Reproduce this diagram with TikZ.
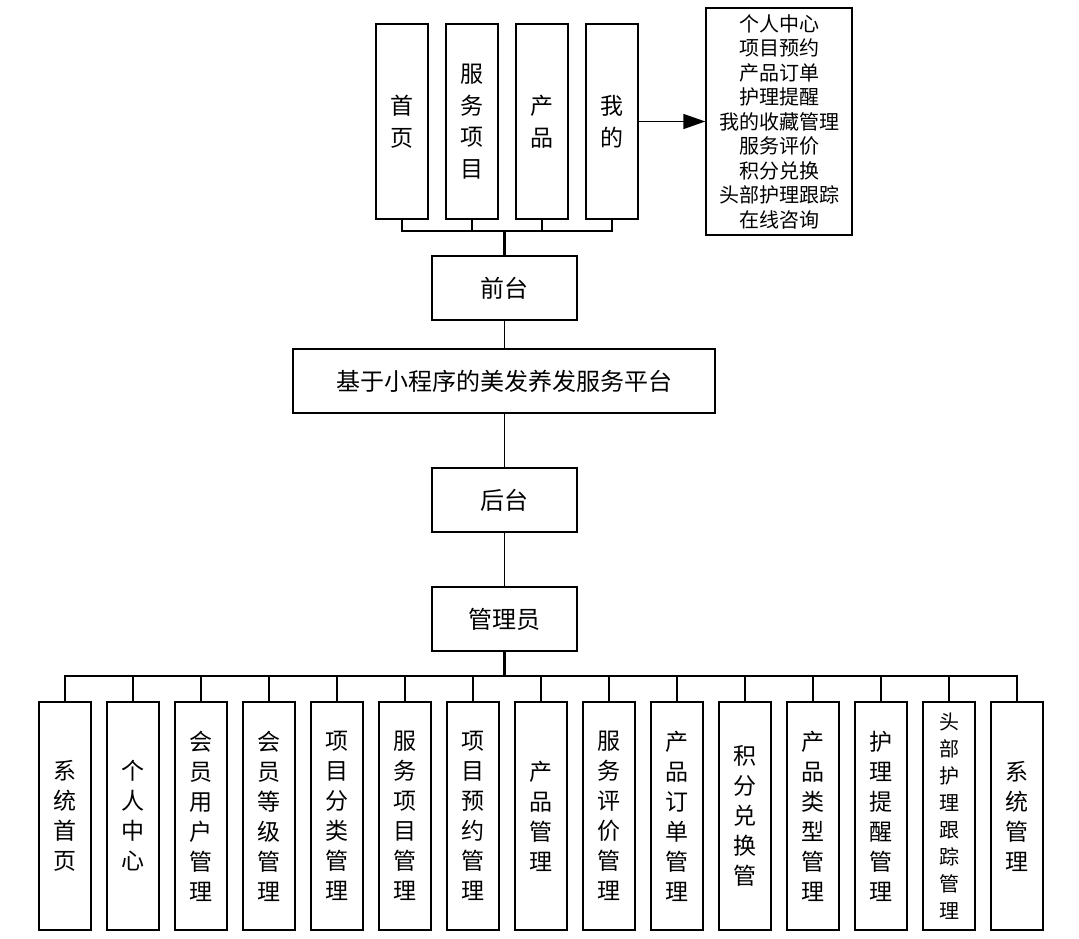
\documentclass[tikz,border=0pt]{standalone}
\usepackage{fontspec}
\newfontfamily\cjk{Noto Sans CJK SC}
\usetikzlibrary{arrows.meta}
\tikzset{
  every node/.style={font=\cjk},
  box/.style={draw, line width=1.3pt, inner sep=0pt, align=center},
  tallbox/.style={box, minimum width=52pt, minimum height=195pt, font=\cjk\fontsize{23}{31.6}\selectfont},
  lowbox/.style={box, minimum width=52pt, minimum height=228pt, font=\cjk\fontsize{23}{30}\selectfont},
  midbox/.style={box, minimum width=145pt, minimum height=64pt, font=\cjk\fontsize{24}{30}\selectfont},
  link/.style={line width=1.3pt},
  trunk/.style={line width=2.4pt}
}
\begin{document}
\begin{tikzpicture}[x=1pt,y=-1pt]
\useasboundingbox (0,0) rectangle (1079,939);
% top level boxes
\node[tallbox] (t1) at (402,121.5) {首\\页};
\node[tallbox] (t2) at (472,121.5) {服\\务\\项\\目};
\node[tallbox] (t3) at (542,121.5) {产\\品};
\node[tallbox] (t4) at (612,121.5) {我\\的};
\node[box, minimum width=146pt, minimum height=227pt, font=\cjk\fontsize{20}{24.5}\selectfont] (rb) at (779,121.5)
  {个人中心\\项目预约\\产品订单\\护理提醒\\我的收藏管理\\服务评价\\积分兑换\\头部护理跟踪\\在线咨询};
\draw[link, -{Triangle[length=22pt,width=15pt]}] (t4.east) -- (rb.west |- t4.east);
% middle chain
\node[midbox] (qt) at (504.5,288) {前台};
\node[midbox, minimum width=422pt] (pt) at (504,381) {基于小程序的美发养发服务平台};
\node[midbox] (ht) at (504.5,500) {后台};
\node[midbox] (gl) at (504.5,619) {管理员};
\coordinate (tbar) at (0,231);
\draw[link] (t1.south) |- (t4.south |- tbar) -- (t4.south);
\draw[link] (t2.south) -- (t2.south |- tbar);
\draw[link] (t3.south) -- (t3.south |- tbar);
\draw[trunk] (qt.north) -- (qt.north |- tbar);
\draw[link] (qt.south) -- (pt.north -| qt.south);
\draw[link] (pt.south -| ht.north) -- (ht.north);
\draw[link] (ht.south) -- (gl.north);
% bottom boxes
\node[lowbox] (b1) at (65,816) {系\\统\\首\\页};
\node[lowbox] (b2) at (133,816) {个\\人\\中\\心};
\node[lowbox] (b3) at (201,816) {会\\员\\用\\户\\管\\理};
\node[lowbox] (b4) at (269,816) {会\\员\\等\\级\\管\\理};
\node[lowbox] (b5) at (337,816) {项\\目\\分\\类\\管\\理};
\node[lowbox] (b6) at (405,816) {服\\务\\项\\目\\管\\理};
\node[lowbox] (b7) at (473,816) {项\\目\\预\\约\\管\\理};
\node[lowbox] (b8) at (541,816) {产\\品\\管\\理};
\node[lowbox] (b9) at (609,816) {服\\务\\评\\价\\管\\理};
\node[lowbox] (b10) at (677,816) {产\\品\\订\\单\\管\\理};
\node[lowbox] (b11) at (745,816) {积\\分\\兑\\换\\管};
\node[lowbox] (b12) at (813,816) {产\\品\\类\\型\\管\\理};
\node[lowbox] (b13) at (881,816) {护\\理\\提\\醒\\管\\理};
\node[lowbox, font=\cjk\fontsize{20}{27}\selectfont] (b14) at (949,816) {头\\部\\护\\理\\跟\\踪\\管\\理};
\node[lowbox] (b15) at (1017,816) {系\\统\\管\\理};
\coordinate (bbar) at (0,676);
\draw[link] (b1.north) |- (b15.north |- bbar) -- (b15.north);
\foreach \i in {2,...,14} {\draw[link] (b\i.north) -- (b\i.north |- bbar);}
\draw[trunk] (gl.south) -- (gl.south |- bbar);
\end{tikzpicture}
\end{document}
